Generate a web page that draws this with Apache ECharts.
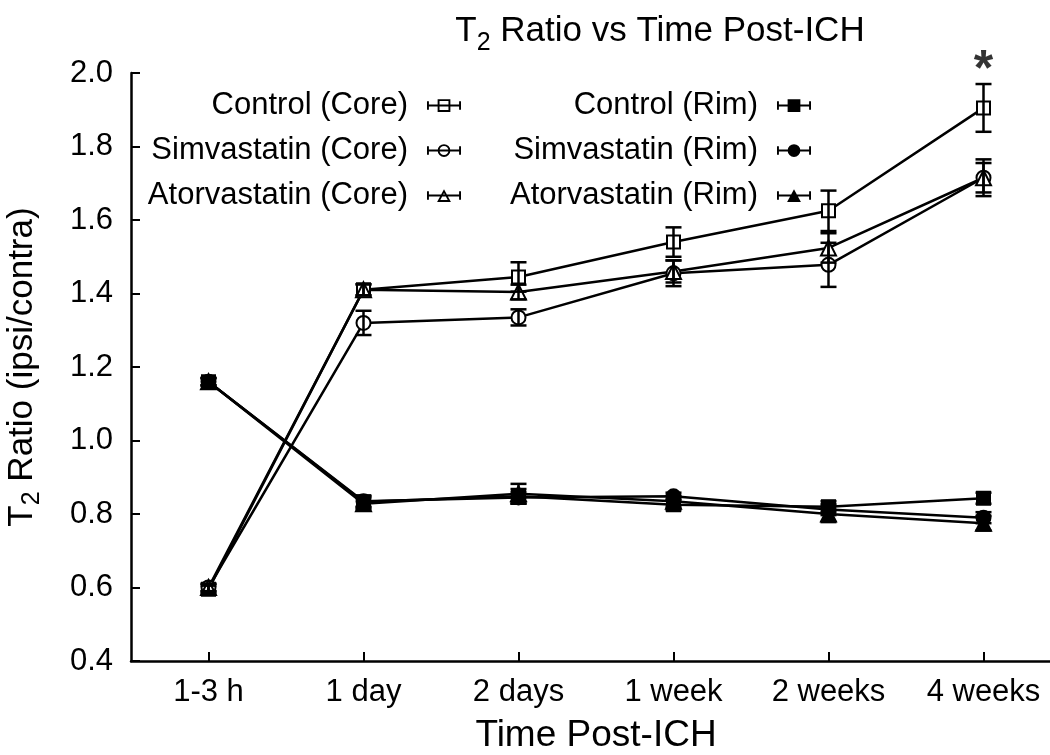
<!DOCTYPE html>
<html>
<head>
<meta charset="utf-8">
<script src="https://cdn.jsdelivr.net/npm/echarts@6/dist/echarts.min.js"></script>
<style>
html,body{margin:0;padding:0;background:#fff;}
#chart{width:1050px;height:755px;}
</style>
</head>
<body>
<div id="chart"></div>
<script>
// ---- data ----
var categories = ['1-3 h', '1 day', '2 days', '1 week', '2 weeks', '4 weeks'];
var yTicks = [0.4, 0.6, 0.8, 1.0, 1.2, 1.4, 1.6, 1.8, 2.0];

var controlCore     = [0.595, 1.410, 1.445, 1.540, 1.625, 1.905];
var controlCoreErr  = [0.010, 0.015, 0.040, 0.040, 0.055, 0.065];
var simvaCore       = [0.600, 1.320, 1.335, 1.455, 1.478, 1.715];
var simvaCoreErr    = [0.010, 0.033, 0.022, 0.035, 0.060, 0.050];
var atorvaCore      = [0.600, 1.410, 1.404, 1.460, 1.524, 1.715];
var atorvaCoreErr   = [0.010, 0.015, 0.020, 0.030, 0.040, 0.040];

var controlRim      = [1.160, 0.833, 0.848, 0.825, 0.820, 0.843];
var controlRimErr   = [0.010, 0.015, 0.020, 0.015, 0.015, 0.015];
var simvaRim        = [1.160, 0.835, 0.845, 0.848, 0.812, 0.790];
var simvaRimErr     = [0.010, 0.015, 0.015, 0.010, 0.015, 0.015];
var atorvaRim       = [1.160, 0.828, 0.855, 0.835, 0.800, 0.775];
var atorvaRimErr    = [0.010, 0.015, 0.027, 0.015, 0.022, 0.020];

var significance = [{ category: '4 weeks', text: '*' }];

// ---- styling ----
var FONT = 'Liberation Sans, Arial, Helvetica, sans-serif';
var BLACK = '#000';

var groups = [
  { name: 'Control (Core)',      vals: controlCore, errs: controlCoreErr, symbol: 'rect',     hollow: true,  icon: 'sq' },
  { name: 'Simvastatin (Core)',  vals: simvaCore,   errs: simvaCoreErr,   symbol: 'circle',   hollow: true,  icon: 'ci' },
  { name: 'Atorvastatin (Core)', vals: atorvaCore,  errs: atorvaCoreErr,  symbol: 'triangle', hollow: true,  icon: 'tr' },
  { name: 'Control (Rim)',       vals: controlRim,  errs: controlRimErr,  symbol: 'rect',     hollow: false, icon: 'sq' },
  { name: 'Simvastatin (Rim)',   vals: simvaRim,    errs: simvaRimErr,    symbol: 'circle',   hollow: false, icon: 'ci' },
  { name: 'Atorvastatin (Rim)',  vals: atorvaRim,   errs: atorvaRimErr,   symbol: 'triangle', hollow: false, icon: 'tr' }
];

// legend icon paths (error-bar style with marker)
var barPart = 'M0 2 L1.8 2 L1.8 10 L0 10 Z M0 5.1 L32 5.1 L32 6.9 L0 6.9 Z M30.2 2 L32 2 L32 10 L30.2 10 Z ';
var shapes = {
  sq: { filled: 'M10 0 L22 0 L22 12 L10 12 Z',
        hollow: 'M10 0 L22 0 L22 12 L10 12 Z M11.8 1.8 L11.8 10.2 L20.2 10.2 L20.2 1.8 Z' },
  ci: { filled: 'M22 6 A6 6 0 1 1 10 6 A6 6 0 1 1 22 6 Z',
        hollow: 'M22 6 A6 6 0 1 1 10 6 A6 6 0 1 1 22 6 Z M20.2 6 A4.2 4.2 0 1 0 11.8 6 A4.2 4.2 0 1 0 20.2 6 Z' },
  tr: { filled: 'M16 0 L22.5 12 L9.5 12 Z',
        hollow: 'M16 0 L22.5 12 L9.5 12 Z M16 3.6 L12.5 10.3 L19.5 10.3 Z' }
};
function legendIcon(g) {
  return 'path://' + barPart + (g.hollow ? shapes[g.icon].hollow : shapes[g.icon].filled);
}

var series = [];
groups.forEach(function (g) {
  series.push({
    name: g.name,
    type: 'line',
    data: g.vals,
    symbol: g.hollow ? 'empty' + g.symbol.charAt(0).toUpperCase() + g.symbol.slice(1) : g.symbol,
    symbolSize: g.symbol === 'triangle' ? 15 : (g.symbol === 'rect' ? 13 : 14),
    showSymbol: true,
    lineStyle: { color: BLACK, width: 2.5 },
    itemStyle: { color: BLACK, borderColor: BLACK, borderWidth: 2 },
    emphasis: { disabled: true },
    z: 3,
    animation: false
  });
  series.push({
    name: g.name,
    type: 'custom',
    data: g.vals.map(function (v, i) { return [i, v - g.errs[i], v + g.errs[i]]; }),
    renderItem: function (params, api) {
      var lo = api.coord([api.value(0), api.value(1)]);
      var hi = api.coord([api.value(0), api.value(2)]);
      var hw = 8;
      var st = { stroke: BLACK, lineWidth: 2.5 };
      return {
        type: 'group',
        children: [
          { type: 'line', shape: { x1: lo[0], y1: lo[1], x2: hi[0], y2: hi[1] }, style: st },
          { type: 'line', shape: { x1: lo[0] - hw, y1: lo[1], x2: lo[0] + hw, y2: lo[1] }, style: st },
          { type: 'line', shape: { x1: hi[0] - hw, y1: hi[1], x2: hi[0] + hw, y2: hi[1] }, style: st }
        ]
      };
    },
    z: 4,
    silent: true,
    animation: false
  });
});

// significance markers above error bar top of control (core)
series.push({
  type: 'scatter',
  data: significance.map(function (s) {
    var i = categories.indexOf(s.category);
    return { value: [i, controlCore[i] + controlCoreErr[i]], text: s.text };
  }),
  symbolSize: 0,
  label: {
    show: true, position: 'top', distance: -12,
    formatter: function (p) { return p.data.text; },
    fontSize: 50, fontWeight: 'bold', color: BLACK, fontFamily: FONT
  },
  silent: true,
  animation: false,
  z: 5
});

var legendTextStyle = { fontSize: 31, color: BLACK, fontFamily: FONT, padding: [0, 14, 0, 0] };
var richTitle = {
  a: { fontSize: 35, fontFamily: FONT, color: BLACK, fontWeight: 'normal' },
  sub: { fontSize: 25, fontFamily: FONT, color: BLACK, fontWeight: 'normal', padding: [24, 0, 0, 0] }
};
var richAxis = {
  a: { fontSize: 35, fontFamily: FONT, color: BLACK },
  sub: { fontSize: 25, fontFamily: FONT, color: BLACK, padding: [20, 0, 0, 0] }
};

var option = {
  backgroundColor: '#fff',
  animation: false,
  title: {
    text: '{a|T}{sub|2}{a| Ratio vs Time Post-ICH}',
    left: 655, top: 2, textAlign: 'center',
    textStyle: { rich: richTitle, fontWeight: 'normal' }
  },
  legend: [
    {
      data: groups.slice(0, 3).map(function (g) { return { name: g.name, icon: legendIcon(g) }; }),
      orient: 'vertical', align: 'right',
      right: 584, top: 85, itemGap: 14,
      itemWidth: 34, itemHeight: 13,
      itemStyle: { borderWidth: 0, color: BLACK },
      textStyle: legendTextStyle,
      selectedMode: false
    },
    {
      data: groups.slice(3).map(function (g) { return { name: g.name, icon: legendIcon(g) }; }),
      orient: 'vertical', align: 'right',
      right: 234, top: 85, itemGap: 14,
      itemWidth: 34, itemHeight: 13,
      itemStyle: { borderWidth: 0, color: BLACK },
      textStyle: legendTextStyle,
      selectedMode: false
    }
  ],
  grid: { left: 131, top: 73, width: 930, height: 588, containLabel: false, outerBoundsMode: 'none' },
  xAxis: {
    type: 'category',
    data: categories,
    boundaryGap: true,
    axisLine: { show: true, lineStyle: { color: BLACK, width: 2.5 } },
    axisTick: { show: true, inside: true, alignWithLabel: true, length: 9, lineStyle: { color: BLACK, width: 2 } },
    axisLabel: { fontSize: 31, color: BLACK, fontFamily: FONT, margin: 16 },
    splitLine: { show: false },
    name: 'Time Post-ICH',
    nameLocation: 'middle',
    nameGap: 56,
    nameTextStyle: { fontSize: 37, color: BLACK, fontFamily: FONT }
  },
  yAxis: {
    type: 'value',
    min: 0.4, max: 2.0, interval: 0.2,
    axisLine: { show: true, lineStyle: { color: BLACK, width: 2.5 } },
    axisTick: { show: true, inside: true, length: 9, lineStyle: { color: BLACK, width: 2 } },
    axisLabel: {
      fontSize: 31, color: BLACK, fontFamily: FONT, margin: 18,
      formatter: function (v) { return v.toFixed(1); }
    },
    splitLine: { show: false },
    name: '{a|T}{sub|2}{a| Ratio (ipsi/contra)}',
    nameLocation: 'middle',
    nameGap: 86,
    nameRotate: 90,
    nameTextStyle: { rich: richAxis }
  },
  series: series
};

var chart = echarts.init(document.getElementById('chart'), null, { renderer: 'canvas' });
chart.setOption(option);
</script>
</body>
</html>
